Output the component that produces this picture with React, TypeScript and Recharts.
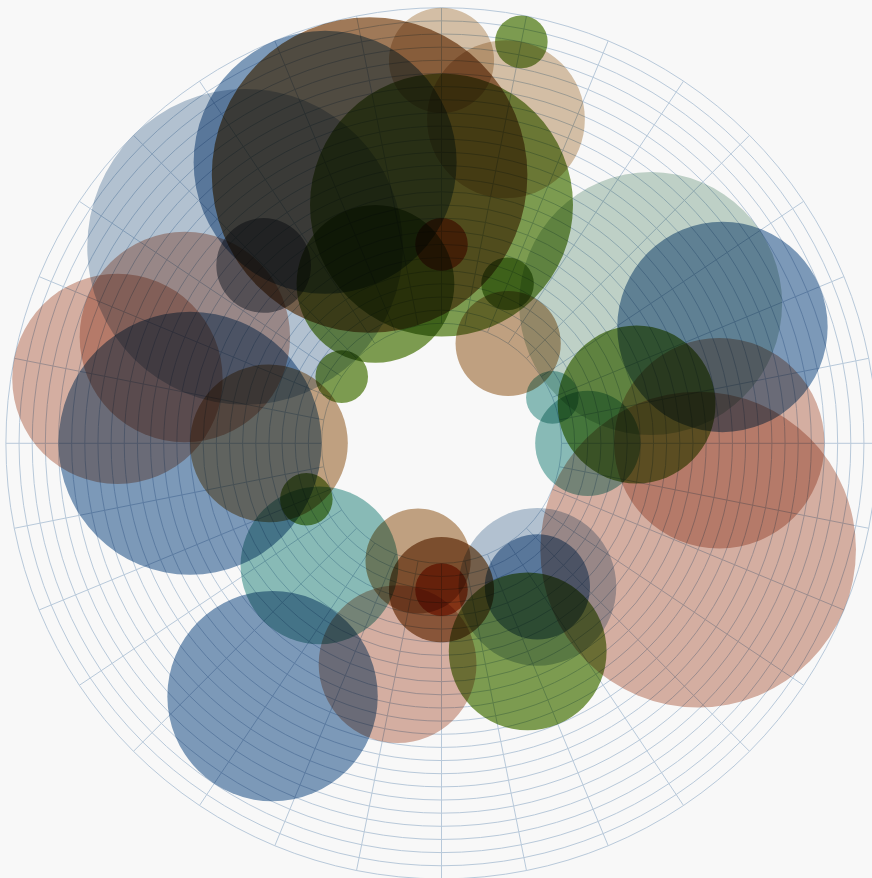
import React from "react"
import { RadarChart, Radar, PolarGrid, PolarAngleAxis, PolarRadiusAxis } from "recharts"

// grid spokes, degrees clockwise from 12 o'clock
const spokeAngles = [
  0, 11.25, 22.5, 33.75, 45, 56.25, 67.5, 78.75, 90, 101.25, 112.5, 123.75, 135, 146.25, 157.5, 168.75,
  180, 191.25, 202.5, 213.75, 225, 236.25, 247.5, 258.75, 270, 281.25, 292.5, 303.75, 315, 326.25, 337.5, 348.75,
]

// [angle, ring level, bubble size] — ring levels 0..24, size in ring units
const blue = [[67.5, 14, 8], [337.5, 14, 10], [270, 10, 10], [213.75, 14, 8], [146.25, 4, 4]]
const slate = [[315, 12, 12], [146.25, 4, 6]]
const sage = [[56.25, 10, 10]]
const salmon = [[90, 12, 8], [112.5, 12, 12], [281.25, 16, 8], [191.25, 8, 6], [292.5, 12, 8]]
const brown = [[345, 12, 12], [180, 2, 4]]
const tan = [[33.75, 0, 4], [270, 4, 6], [191.25, 0, 4]]
const sand = [[0, 20, 4], [11.25, 16, 6]]
const teal = [[90, 2, 4], [67.5, 0, 2], [225, 4, 6]]
const dusk = [[315, 10, 3.6]]
const green = [[78.75, 6, 6], [22.5, 4, 2], [0, 9, 10], [11.25, 22, 2], [337.5, 4, 6], [303.75, 0, 2], [247.5, 2, 2], [157.5, 8, 6]]
const rust = [[0, 6, 2], [180, 2, 2]]

const palette: Record<string, string> = {
  slate: "#b7c7d6",
  sage: "#c4d6cc",
  salmon: "#dab3a6",
  blue: "#7f9dbd",
  brown: "#a47c5a",
  tan: "#c5a584",
  sand: "#d9c4aa",
  teal: "#8cc0bb",
  dusk: "#8f96a0",
  green: "#80a052",
  rust: "#d26a3c",
}

const groups: [string, number[][]][] = [
  ["slate", slate],
  ["sage", sage],
  ["salmon", salmon],
  ["blue", blue],
  ["brown", brown],
  ["tan", tan],
  ["sand", sand],
  ["teal", teal],
  ["dusk", dusk],
  ["green", green],
  ["rust", rust],
]

const bubbles = groups.flatMap(([tone, pts]) =>
  pts.map(([angle, level, size]) => ({ tone, angle, level, size }))
)

const CX = 441.5
const CY = 443.3
const INNER = 120
const OUTER = 435.6
const MAX_LEVEL = 24
const UNIT = (OUTER - INNER) / MAX_LEVEL

const renderBubble = (p: any) => {
  const row = p.payload?.payload ?? p.payload
  const k = `b-${p.index}`
  if (!row || !Number.isFinite(p.cx) || !Number.isFinite(p.cy)) return <g key={k} />
  return (
    <circle
      key={k}
      cx={p.cx}
      cy={p.cy}
      r={row.size * UNIT}
      fill={palette[row.tone]}
      stroke="none"
      style={{ mixBlendMode: "multiply" }}
    />
  )
}

export default function App() {
  return (
    <div style={{ position: "fixed", inset: 0, background: "#f8f8f8", overflow: "hidden" }}>
      <RadarChart
        width={872}
        height={878}
        data={bubbles}
        cx={CX}
        cy={CY}
        innerRadius={INNER}
        outerRadius={OUTER}
        margin={{ top: 0, right: 0, bottom: 0, left: 0 }}
      >
        <PolarGrid gridType="circle" stroke="#b8c9da" />
        <PolarAngleAxis
          dataKey="angle"
          type="number"
          domain={[0, 360]}
          ticks={spokeAngles}
          tick={false}
          axisLine={false}
        />
        <PolarRadiusAxis
          type="number"
          domain={[0, MAX_LEVEL]}
          tickCount={MAX_LEVEL + 1}
          tick={false}
          axisLine={false}
        />
        <Radar
          dataKey="level"
          fill="none"
          stroke="none"
          dot={renderBubble}
          activeDot={false}
          legendType="none"
          isAnimationActive={false}
        />
      </RadarChart>
    </div>
  )
}
